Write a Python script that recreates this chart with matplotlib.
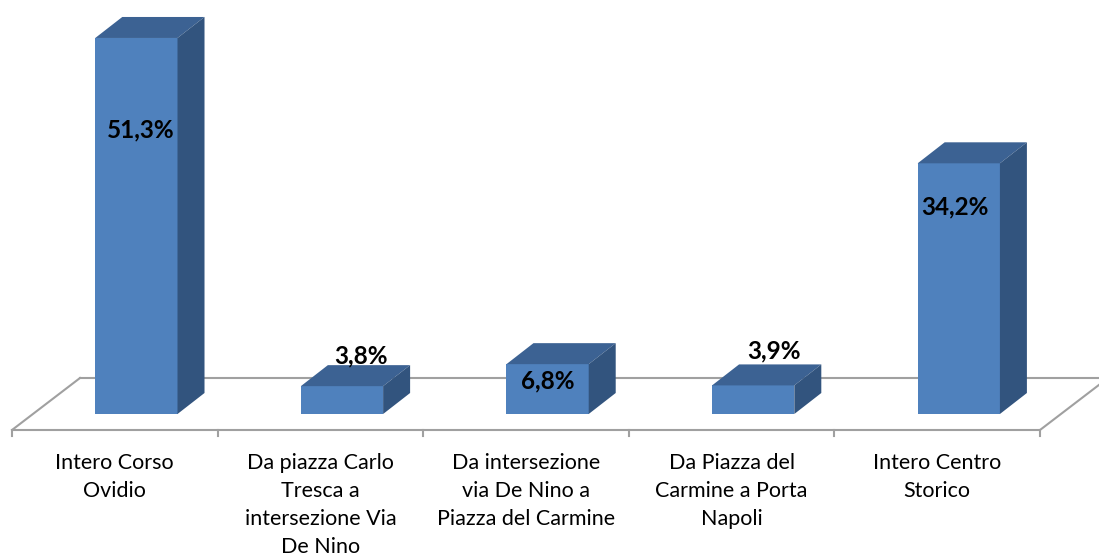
import matplotlib
matplotlib.use("Agg")
import matplotlib.pyplot as plt
from matplotlib.patches import Polygon

categories = [
    "Intero Corso\nOvidio",
    "Da piazza Carlo\nTresca a\nintersezione Via\nDe Nino",
    "Da intersezione\nvia De Nino a\nPiazza del Carmine",
    "Da Piazza del\nCarmine a Porta\nNapoli",
    "Intero Centro\nStorico",
]
values = [51.3, 3.8, 6.8, 3.9, 34.2]
value_labels = ["51,3%", "3,8%", "6,8%", "3,9%", "34,2%"]
label_y = [38.7, 7.9, 4.5, 8.6, 28.2]
label_dx = [0.02, 0.09, 0.0, 0.1, -0.02]

FRONT = "#4F81BD"
TOP = "#3C6293"
SIDE = "#32547E"
GRID = "#A0A0A0"

W, H = 1099, 557
fig = plt.figure(figsize=(W / 100, H / 100), dpi=100)
ax = fig.add_axes([0, 0, 1, 1])
pxx = 205.6  # px per category
pxy = 7.33   # px per percent
x0px = 12
y0px = H - 414
ax.set_xlim(-x0px / pxx, (W - x0px) / pxx)
ax.set_ylim(-y0px / pxy, (H - y0px) / pxy)
ax.axis("off")

# floor
front_y = -16 / pxy
back_y = 36 / pxy
depth_x = 68 / pxx
n = len(categories)
ax.plot([0, n], [front_y, front_y], color=GRID, lw=1.5, zorder=1, solid_capstyle="butt")
ax.plot([0, depth_x], [front_y, back_y], color=GRID, lw=1.5, zorder=1)
ax.plot([n, n + depth_x], [front_y, back_y], color=GRID, lw=1.5, zorder=1)
ax.plot([depth_x, n + depth_x], [back_y, back_y], color=GRID, lw=1.5, zorder=1)
for i in range(n + 1):
    ax.plot([i, i], [front_y, front_y - 6 / pxy], color=GRID, lw=1.5, zorder=1)

# bars
bw = 0.4
off = 0.105
bdx = 27 / pxx
bdy = 21 / pxy
xs = [i + 0.5 + off for i in range(n)]
ax.bar(xs, values, width=bw, color=FRONT, zorder=3)
for x, v in zip(xs, values):
    l, r = x - bw / 2, x + bw / 2
    ax.add_patch(Polygon([(l, v), (r, v), (r + bdx, v + bdy), (l + bdx, v + bdy)],
                         closed=True, facecolor=TOP, edgecolor="none", zorder=3))
    ax.add_patch(Polygon([(r, 0), (r + bdx, bdy), (r + bdx, v + bdy), (r, v)],
                         closed=True, facecolor=SIDE, edgecolor="none", zorder=3))

for x, ly, dx, t in zip(xs, label_y, label_dx, value_labels):
    ax.text(x + dx, ly, t, ha="center", va="center", fontsize=17.5,
            fontweight="bold", family="Lato", color="black", zorder=5)

for i, c in enumerate(categories):
    ax.text(i + 0.5, front_y - 23 / pxy, c, ha="center", va="top", fontsize=15.5,
            family="Lato", color="black", linespacing=1.5)

fig.savefig("out.png", dpi=100)
